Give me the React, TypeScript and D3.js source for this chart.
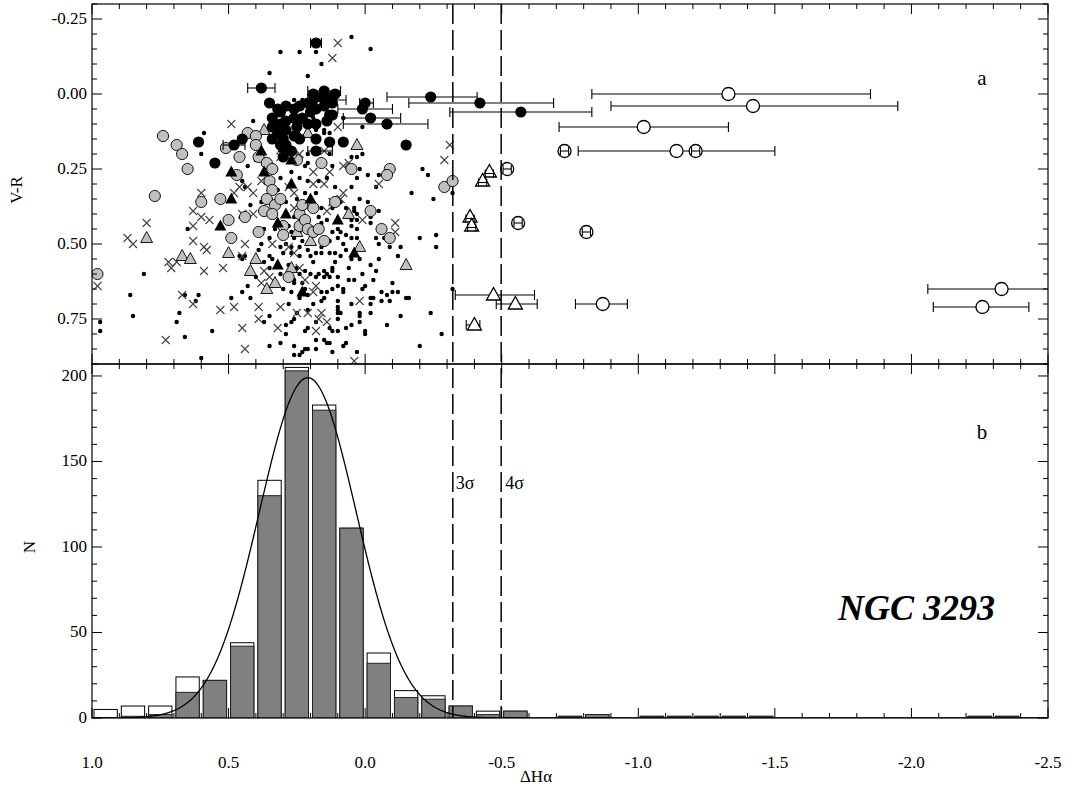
import React from "react";
import * as d3 from "d3";

// axis ticks
const xMajorTicks = [1.0, 0.5, 0.0, -0.5, -1.0, -1.5, -2.0, -2.5];
const xTickLabels = ["1.0", "0.5", "0.0", "-0.5", "-1.0", "-1.5", "-2.0", "-2.5"];
const vrMajorTicks = [-0.25, 0, 0.25, 0.5, 0.75];
const vrTickLabels = ["-0.25", "0.00", "0.25", "0.50", "0.75"];
const nMajorTicks = [0, 50, 100, 150, 200];
const nTickLabels = ["0", "50", "100", "150", "200"];

// panel a: [dHa, V-R]
const smallDots = [
  [0.05,-0.19],[-0.02,-0.15],[0.31,-0.14],[0.24,-0.14],[0.18,-0.14],[0.16,-0.10],[0.35,-0.07],[0.21,-0.06],
  [0.59,0.13],[0.60,0.20],[0.01,0.11],[0.08,0.08],[0.81,0.60],[0.86,0.67],[0.85,0.74],[0.97,0.76],[0.97,0.79],
  [0.66,0.81],[0.68,0.73],[0.66,0.67],[0.61,0.67],[0.65,0.45],[0.56,0.79],[0.60,0.88],[0.49,0.68],[0.45,0.55],[0.44,0.54],
  [0.42,0.37],[0.38,0.36],[0.44,0.31],[0.45,0.29],[0.21,0.23],[0.22,0.24],[0.35,0.84],[0.29,0.80],[0.26,0.87],[0.24,0.87],
  [0.21,0.85],[0.18,0.85],[0.14,0.83],[0.08,0.84],[0.03,0.86],[0.07,0.83],[0.00,0.79],[0.05,0.77],[0.02,0.76],[0.10,0.79],
  [0.12,0.79],[0.10,0.75],[0.10,0.72],[0.05,0.70],[0.08,0.66],[0.10,0.64],[-0.02,0.73],[-0.08,0.77],[-0.13,0.74],[-0.15,0.68],
  [-0.12,0.66],[-0.10,0.66],[-0.06,0.66],[-0.02,0.68],[-0.02,0.70],[0.01,0.65],[0.04,0.62],[0.01,0.60],[-0.02,0.57],[-0.05,0.55],
  [-0.04,0.48],[-0.07,0.48],[-0.12,0.54],[-0.13,0.51],[-0.02,0.43],[-0.05,0.39],[-0.01,0.36],[0.02,0.35],[0.05,0.31],[0.03,0.28],
  [0.05,0.21],[0.01,0.20],[-0.05,0.27],[-0.07,0.27],[-0.04,0.31],[-0.02,0.41],[0.04,0.38],
  [0.05,0.42],[0.03,0.42],[0.05,0.44],[0.03,0.45],[0.05,0.48],[0.03,0.48],[0.10,0.45],[0.12,0.46],[0.09,0.46],[0.10,0.48],
  [0.13,0.49],[0.08,0.50],[0.11,0.53],[0.13,0.53],[0.16,0.51],[0.16,0.53],[0.09,0.54],[0.07,0.52],[0.02,0.55],[0.00,0.64],
  [-0.04,0.59],[-0.05,0.50],[-0.09,0.51],[0.15,0.59],[0.17,0.60],[0.14,0.60],[0.13,0.61],[0.10,0.61],[0.12,0.59],[0.15,0.61],
  [0.18,0.61],[0.20,0.60],[0.22,0.59],[0.08,0.65],[0.12,0.65],[0.16,0.66],[0.15,0.68],[0.10,0.69],[0.10,0.71],[0.10,0.73],
  [0.09,0.73],[0.02,0.73],[0.02,0.74],[-0.03,0.68],[-0.06,0.69],[-0.08,0.67],[-0.09,0.69],[0.00,0.80],[0.13,0.78],[0.07,0.78],
  [0.15,0.82],[0.13,0.83],[0.18,0.82],[0.21,0.78],[0.18,0.76],[0.26,0.84],[0.22,0.85],[0.23,0.86],[0.22,0.79],[0.26,0.75],
  [0.21,0.72],[0.22,0.65],[0.23,0.63],[0.26,0.62],[0.24,0.60],[0.25,0.58],[0.12,0.58],[0.18,0.53],[0.20,0.54],[0.24,0.54],
  [0.21,0.52],[0.24,0.51],[0.23,0.49],[0.20,0.49],[0.15,0.48],[0.18,0.46],[0.16,0.43],[0.14,0.42],[0.12,0.38],[0.09,0.36],
  [0.07,0.38],[0.04,0.39],[0.03,0.40],[-0.02,0.38],
  [-0.21,0.25],[-0.23,0.27],[-0.17,0.33],[-0.25,0.35],[-0.32,0.33],[-0.20,0.48],[-0.26,0.47],[-0.26,0.51],[-0.10,0.63],
  [-0.16,0.68],[-0.32,0.65],[-0.24,0.73],[-0.28,0.80],[-0.20,0.84],
  [0.62,0.69],[0.69,0.76],
  [0.46,0.54],[0.38,0.50],[0.39,0.52],[0.31,0.51],[0.29,0.50],[0.27,0.51],[0.27,0.53],[0.30,0.53],[0.35,0.54],[0.37,0.56],
  [0.35,0.58],[0.40,0.61],[0.43,0.64],[0.45,0.66],[0.42,0.68],[0.34,0.64],[0.30,0.65],[0.28,0.70],[0.35,0.74],[0.37,0.76],
  [0.29,0.77],[0.27,0.76],[0.25,0.73],
  [0.18,0.12],[0.15,0.13],[0.13,0.13],[-0.01,0.27],[0.03,0.21],[0.02,0.25],
  [0.21,0.20],[0.16,0.22],[0.13,0.20],[0.12,0.24],[0.14,0.28],[0.17,0.29],[0.21,0.29],[0.24,0.28],[0.22,0.33],[0.25,0.35],
  [0.19,0.36],[0.16,0.38],[0.27,0.26],[0.31,0.28],[0.34,0.26],[0.26,0.41],[0.21,0.43],[0.26,0.63],[0.27,0.66],[0.24,0.68],
  [0.21,0.67],[0.16,0.69],[0.34,0.55],[0.26,0.48],[0.24,0.46],[0.27,0.46],[0.37,0.45],[0.35,0.48],[0.24,0.10],[0.15,0.12],
  [0.19,0.08],[0.32,0.07],[0.26,0.02],[0.23,0.02],[0.41,0.09],[0.43,0.24],[0.40,0.22],
  [0.19,0.56],[0.11,0.56],[0.06,0.58],[0.14,0.66],[0.06,0.62],[0.31,0.60],[0.28,0.57],[0.19,0.70],[0.31,0.83],[0.12,0.86],
  [0.33,0.45],[0.28,0.44],[0.17,0.41],[0.07,0.47],[0.05,0.55],[-0.03,0.62],[0.29,0.36],[0.32,0.32],[0.18,0.33],[0.11,0.31],
];

const crosses = [
  [0.10,-0.17],[0.12,-0.12],[0.49,0.10],[0.10,0.11],[0.80,0.43],[0.87,0.48],[0.85,0.50],[0.98,0.64],[0.60,0.33],[0.60,0.36],
  [0.63,0.39],[0.60,0.41],[0.57,0.42],[0.63,0.44],[0.63,0.49],[0.59,0.51],[0.58,0.52],[0.72,0.56],[0.69,0.56],[0.71,0.58],
  [0.67,0.67],[0.63,0.70],[0.73,0.82],[0.59,0.59],[0.52,0.58],[0.48,0.71],[0.53,0.72],[0.45,0.78],[0.44,0.85],[0.39,0.71],
  [0.39,0.75],[0.32,0.78],[0.31,0.71],[0.37,0.59],[0.35,0.61],[0.38,0.63],[0.43,0.31],[0.46,0.31],[0.48,0.33],[0.41,0.33],
  [0.38,0.29],[0.41,0.40],[0.45,0.40],[0.44,0.50],[0.45,0.54],[0.34,0.50],[0.28,0.51],[0.26,0.53],[0.24,0.58],[0.22,0.62],
  [0.18,0.64],[0.19,0.66],[0.25,0.73],[0.21,0.73],[0.17,0.75],[0.18,0.79],[0.16,0.73],[0.14,0.76],[0.19,0.26],[0.19,0.30],
  [0.15,0.30],[0.13,0.26],[0.08,0.24],[0.06,0.23],[0.09,0.35],[0.08,0.33],[0.12,0.36],[0.14,0.39],[0.23,0.37],[0.26,0.38],
  [0.28,0.31],[0.26,0.33],[0.24,0.40],[0.02,0.69],[0.04,0.89],[-0.05,0.30],[-0.11,0.43],[-0.11,0.46],[0.01,0.42],[-0.31,0.17],
  [-0.29,0.22],[0.24,0.20],[0.31,0.21],[0.15,0.19],
];

const grayCircles = [
  [0.74,0.14],[0.69,0.17],[0.67,0.20],[0.65,0.25],[0.77,0.34],[0.98,0.60],[0.60,0.36],[0.53,0.35],[0.50,0.42],[0.49,0.48],
  [0.44,0.41],[0.39,0.46],[0.47,0.27],[0.46,0.21],[0.51,0.18],[0.43,0.13],[0.40,0.14],[0.40,0.17],[0.39,0.21],[0.36,0.23],
  [0.34,0.25],[0.35,0.29],[0.34,0.32],[0.36,0.35],[0.33,0.37],[0.31,0.35],[0.37,0.39],[0.34,0.40],[0.30,0.44],[0.30,0.47],
  [0.28,0.61],[0.24,0.40],[0.19,0.38],[0.24,0.44],[0.22,0.42],[0.21,0.45],[0.19,0.46],[0.17,0.45],[0.15,0.49],[0.16,0.23],
  [0.23,0.37],[0.11,0.36],[0.05,0.25],[-0.02,0.39],[-0.06,0.45],[-0.09,0.48],[-0.09,0.25],[-0.08,0.27],[0.25,0.22],[0.27,0.20],
  [-0.29,0.31],[-0.32,0.29],
];

const blackCircles = [
  [0.61,0.16],[0.55,0.23],[0.45,0.15],[0.13,0.16],[0.08,0.16],[-0.15,0.17],[0.11,0.00],[0.19,0.00],[0.35,0.03],[0.32,0.05],
  [0.12,0.07],[0.18,0.15],[0.12,0.03],
  [0.34,0.08],[0.31,0.06],[0.29,0.04],[0.26,0.05],[0.24,0.04],[0.21,0.03],[0.19,0.02],[0.16,0.01],[0.15,0.04],[0.18,0.05],
  [0.20,0.06],[0.23,0.08],[0.26,0.08],[0.29,0.09],[0.31,0.10],[0.34,0.11],[0.32,0.13],[0.29,0.12],[0.25,0.11],[0.21,0.10],
  [0.18,0.10],[0.14,0.09],[0.13,0.07],[0.12,0.01],[0.26,0.14],[0.30,0.15],[0.34,0.15],[0.24,0.15],[0.29,0.17],[0.31,0.17],
  [0.30,0.21],[0.27,0.19],
];

// [dHa, V-R, error low, error high]
const blackCirclesErr = [
  [-0.24,0.01,-0.08,-0.41],[-0.42,0.03,-0.16,-0.69],[-0.57,0.06,-0.31,-0.83],[-0.08,0.10,0.08,-0.23],
  [-0.02,0.08,0.08,-0.13],[0.01,0.05,0.10,-0.10],[0.00,0.03,0.02,-0.03],[0.38,-0.02,0.43,0.33],
  [0.18,-0.17,0.20,0.16],[0.48,0.17,0.52,0.44],[0.18,0.19,0.21,0.12],[0.14,0.02,0.21,0.07],[0.15,-0.01,0.21,0.09],
];

const blackTriangles = [
  [0.49,0.26],[0.37,0.26],[0.49,0.35],[0.53,0.44],[0.27,0.22],[0.27,0.30],[0.20,0.35],[0.29,0.40],[0.32,0.43],[0.10,0.42],
  [0.32,0.57],[0.23,0.66],[0.04,0.53],[0.38,0.19],[0.30,0.18],[0.25,0.13],
];

const grayTriangles = [
  [0.80,0.48],[0.67,0.54],[0.64,0.55],[0.50,0.53],[0.40,0.55],[0.42,0.59],[0.36,0.65],[0.33,0.63],[0.27,0.58],[0.25,0.46],
  [0.20,0.49],[0.06,0.40],[0.02,0.51],[0.03,0.17],[-0.15,0.57],[0.37,0.12],[0.21,0.13],
];

const openCirclesErr = [
  [-1.33,0.00,-0.83,-1.85],[-1.42,0.04,-0.90,-1.95],[-1.02,0.11,-0.71,-1.33],[-1.14,0.19,-0.78,-1.50],
  [-0.87,0.70,-0.77,-0.96],[-2.33,0.65,-2.06,-2.60],[-2.26,0.71,-2.08,-2.43],
];
const openCirclesSmallErr = [[-1.21,0.19],[-0.73,0.19],[-0.52,0.25],[-0.56,0.43],[-0.81,0.46]];
const openTrianglesSmallErr = [[-0.455,0.26],[-0.43,0.29],[-0.384,0.41],[-0.39,0.44]];
const openTrianglesErr = [[-0.47,0.67,-0.33,-0.62],[-0.55,0.70,-0.48,-0.63],[-0.40,0.77,-0.37,-0.42]];

// panel b: histogram, bins 0.1 wide
const binCenters = [0.95,0.85,0.75,0.65,0.55,0.45,0.35,0.25,0.15,0.05,-0.05,-0.15,-0.25,-0.35,-0.45,-0.55,-0.65,
  -0.75,-0.85,-0.95,-1.05,-1.15,-1.25,-1.35,-1.45,-1.55,-1.65,-1.75,-1.85,-1.95,-2.05,-2.15,-2.25,-2.35];
const allCounts = [5,7,7,24,22,44,139,205,183,111,38,16,13,7,4,4,0,1,2,0,1,1,1,1,1,0,0,0,0,0,0,0,1,1];
const selCounts = [0,1,2,15,22,42,130,203,180,111,32,12,11,7,2,4,0,1,2,0,1,1,1,1,1,0,0,0,0,0,0,0,1,1];
const binWidth = 0.1;

// gaussian fit
const fitMean = 0.21;
const fitSigma = 0.177;
const fitPeak = 199;

const W = 1072, H = 789;
const L = 92, R = 1048, T = 4, M = 364, B = 718;
const MAJ = 10, MIN = 5;

export default function App() {
  const x = d3.scaleLinear().domain([1.0, -2.5]).range([L, R]);
  const yA = d3.scaleLinear().domain([-0.3, 0.9]).range([T, M]);
  const yB = d3.scaleLinear().domain([0, 207]).range([B, M]);

  const xMinor = d3.range(36).map(i => 1 - i * 0.1).filter(v => Math.abs(v * 2 - Math.round(v * 2)) > 1e-6);
  const vrMinor = d3.range(25).map(i => -0.3 + i * 0.05).filter(v => Math.abs(v * 4 - Math.round(v * 4)) > 1e-6);
  const nMinor = d3.range(21).map(i => i * 10).filter(v => v % 50 !== 0);

  const lines: JSX.Element[] = [];
  let k = 0;
  const ln = (x1: number, y1: number, x2: number, y2: number) =>
    lines.push(<line key={"t" + k++} x1={x1} y1={y1} x2={x2} y2={y2} stroke="#000" strokeWidth={1} />);

  // x ticks on all horizontal edges
  const xt = (vals: number[], len: number) => vals.forEach(v => {
    const px = x(v);
    ln(px, T, px, T + len);
    ln(px, M, px, M - len);
    ln(px, M, px, M + len);
    ln(px, B, px, B - len);
  });
  xt(xMajorTicks, MAJ);
  xt(xMinor, MIN);
  const yt = (vals: number[], sc: any, len: number) => vals.forEach(v => {
    const py = sc(v);
    ln(L, py, L + len, py);
    ln(R, py, R - len, py);
  });
  yt(vrMajorTicks, yA, MAJ);
  yt(vrMinor, yA, MIN);
  yt(nMajorTicks, yB, MAJ);
  yt(nMinor, yB, MIN);

  const gauss = d3.range(1.0, -2.5001, -0.005).map(v => [v, fitPeak * Math.exp(-0.5 * ((v - fitMean) / fitSigma) ** 2)]);
  const gaussPath = d3.line<number[]>().x(d => x(d[0])).y(d => yB(d[1]))(gauss) || "";

  const sig3 = fitMean - 3 * fitSigma;
  const sig4 = fitMean - 4 * fitSigma;

  const cross = "M-4,-4L4,4M-4,4L4,-4";
  const triS = "M0,-6.5L6,4.5L-6,4.5Z";
  const triL = "M0,-7.5L7,5L-7,5Z";

  const errBar = (key: string, lo: number, hi: number, yv: number, cap = 5) => {
    const py = yA(yv);
    return (
      <g key={key} stroke="#000" strokeWidth={1.1}>
        <line x1={x(lo)} y1={py} x2={x(hi)} y2={py} />
        <line x1={x(lo)} y1={py - cap} x2={x(lo)} y2={py + cap} />
        <line x1={x(hi)} y1={py - cap} x2={x(hi)} y2={py + cap} />
      </g>
    );
  };

  const font = "'Liberation Serif', 'Times New Roman', serif";

  return (
    <svg width={W} height={H} style={{ position: "absolute", left: 0, top: 0, background: "#fff" }} fontFamily={font}>
      <defs>
        <clipPath id="clipA"><rect x={L} y={T} width={R - L} height={M - T} /></clipPath>
        <clipPath id="clipB"><rect x={L} y={M} width={R - L} height={B - M} /></clipPath>
      </defs>
      <rect x={0} y={0} width={W} height={H} fill="#fff" />

      {/* panel a */}
      <g clipPath="url(#clipA)">
        {smallDots.map((d, i) => <circle key={"d" + i} cx={x(d[0])} cy={yA(d[1])} r={2.2} fill="#000" />)}
        {crosses.map((d, i) => (
          <path key={"x" + i} d={cross} transform={`translate(${x(d[0])},${yA(d[1])})`} stroke="#444" strokeWidth={1.1} fill="none" />
        ))}
        {grayTriangles.map((d, i) => (
          <path key={"gt" + i} d={triS} transform={`translate(${x(d[0])},${yA(d[1])})`} fill="#bfbfbf" stroke="#000" strokeWidth={0.9} />
        ))}
        {grayCircles.map((d, i) => (
          <circle key={"gc" + i} cx={x(d[0])} cy={yA(d[1])} r={5.6} fill="#c0c0c0" stroke="#000" strokeWidth={0.9} />
        ))}
        {blackTriangles.map((d, i) => (
          <path key={"bt" + i} d={triS} transform={`translate(${x(d[0])},${yA(d[1])})`} fill="#000" />
        ))}
        {blackCircles.map((d, i) => <circle key={"bc" + i} cx={x(d[0])} cy={yA(d[1])} r={5.6} fill="#000" />)}
        {blackCirclesErr.map((d, i) => errBar("be" + i, d[2], d[3], d[1]))}
        {blackCirclesErr.map((d, i) => <circle key={"bce" + i} cx={x(d[0])} cy={yA(d[1])} r={5.6} fill="#000" />)}
        {openCirclesErr.map((d, i) => errBar("oe" + i, d[2], d[3], d[1]))}
        {openCirclesErr.map((d, i) => (
          <circle key={"oc" + i} cx={x(d[0])} cy={yA(d[1])} r={6.5} fill="#fff" stroke="#000" strokeWidth={1.3} />
        ))}
        {openCirclesSmallErr.map((d, i) => (
          <g key={"os" + i}>
            <circle cx={x(d[0])} cy={yA(d[1])} r={6.5} fill="#fff" stroke="#000" strokeWidth={1.3} />
            {errBar("ose" + i, d[0] + 0.015, d[0] - 0.015, d[1], 4)}
          </g>
        ))}
        {openTrianglesErr.map((d, i) => errBar("te" + i, d[2], d[3], d[1]))}
        {openTrianglesErr.map((d, i) => (
          <path key={"ot" + i} d={triL} transform={`translate(${x(d[0])},${yA(d[1])})`} fill="#fff" stroke="#000" strokeWidth={1.3} />
        ))}
        {openTrianglesSmallErr.map((d, i) => (
          <g key={"ots" + i}>
            <path d={triL} transform={`translate(${x(d[0])},${yA(d[1])})`} fill="#fff" stroke="#000" strokeWidth={1.3} />
            {errBar("otse" + i, d[0] + 0.015, d[0] - 0.015, d[1] + 0.005, 4)}
          </g>
        ))}
      </g>

      {/* panel b */}
      <g clipPath="url(#clipB)">
        {binCenters.map((c, i) => allCounts[i] > 0 && (
          <rect key={"ha" + i} x={x(c + binWidth / 2) + 2} width={x(c - binWidth / 2) - x(c + binWidth / 2) - 4}
            y={yB(allCounts[i])} height={yB(0) - yB(allCounts[i])} fill="#fff" stroke="#000" strokeWidth={1} />
        ))}
        {binCenters.map((c, i) => selCounts[i] > 0 && (
          <rect key={"hs" + i} x={x(c + binWidth / 2) + 2} width={x(c - binWidth / 2) - x(c + binWidth / 2) - 4}
            y={yB(selCounts[i])} height={yB(0) - yB(selCounts[i])} fill="#808080" stroke="#222" strokeWidth={1} />
        ))}
        <path d={gaussPath} fill="none" stroke="#000" strokeWidth={1.3} />
      </g>

      {/* sigma lines */}
      {[sig3, sig4].map((s, i) => (
        <line key={"sg" + i} x1={x(s)} x2={x(s)} y1={T} y2={B} stroke="#000" strokeWidth={1.5} strokeDasharray="20,6" />
      ))}
      <text x={x(sig3) + 3} y={489} fontSize={18}>3σ</text>
      <text x={x(sig4) + 4} y={489} fontSize={18}>4σ</text>

      {/* frames and ticks */}
      <rect x={L} y={T} width={R - L} height={M - T} fill="none" stroke="#000" strokeWidth={1.2} />
      <rect x={L} y={M} width={R - L} height={B - M} fill="none" stroke="#000" strokeWidth={1.2} />
      {lines}

      {/* tick labels */}
      {xMajorTicks.map((v, i) => (
        <text key={"xl" + i} x={x(v)} y={768} fontSize={17} textAnchor="middle">{xTickLabels[i]}</text>
      ))}
      {vrMajorTicks.map((v, i) => (
        <text key={"yl" + i} x={87} y={yA(v) + 5} fontSize={17} textAnchor="end">{vrTickLabels[i]}</text>
      ))}
      {nMajorTicks.map((v, i) => (
        <text key={"nl" + i} x={87} y={yB(v) + 5} fontSize={17} textAnchor="end">{nTickLabels[i]}</text>
      ))}

      {/* axis titles */}
      <text x={536} y={782} fontSize={17} textAnchor="middle">ΔHα</text>
      <text transform="translate(22,190) rotate(-90)" fontSize={17} textAnchor="middle">V-R</text>
      <text transform="translate(35,547) rotate(-90)" fontSize={17} textAnchor="middle">N</text>

      <text x={982} y={85} fontSize={21} textAnchor="middle">a</text>
      <text x={982} y={439} fontSize={21} textAnchor="middle">b</text>
      <text x={838} y={620} fontSize={36} fontWeight="bold" fontStyle="italic">NGC 3293</text>
    </svg>
  );
}
